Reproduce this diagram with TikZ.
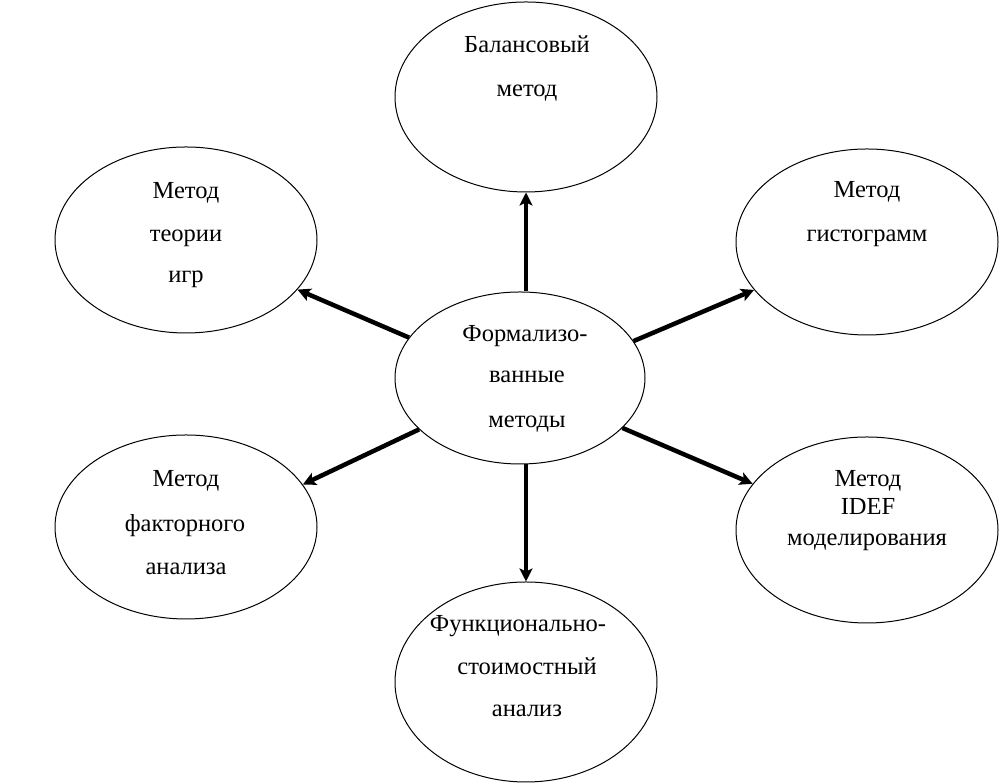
\documentclass[tikz,border=0pt]{standalone}
\usepackage{fontspec}
\setmainfont{Liberation Serif}
\usetikzlibrary{shapes.geometric,arrows.meta}
\tikzset{
  oval/.style={draw,ellipse,line width=1pt,inner sep=0pt,minimum width=262pt,minimum height=#1},
  lbl/.style={anchor=base,inner sep=0pt,font=\fontsize{24.5}{24.5}\selectfont},
  conn/.style={line width=4.5pt,-{Stealth[length=13pt,width=13pt,inset=3pt]}}
}
\begin{document}
\begin{tikzpicture}[x=1pt,y=1pt]
\useasboundingbox (0,0) rectangle (999,783);
% ellipses
\node[oval=190pt] (t)  at (526,686) {};
\node[oval=186pt] (lt) at (186,543) {};
\node[oval=186pt] (rt) at (867,541) {};
\node[oval=172pt,minimum width=250pt] (c) at (520,405) {};
\node[oval=184pt] (lb) at (186,256) {};
\node[oval=186pt] (rb) at (867,253) {};
\node[oval=200pt] (b)  at (526,101) {};
% texts
\node[lbl] (t1) at (527,730) {Балансовый};
\node[lbl] (t2) at (527,686) {метод};
\node[lbl] (lt1) at (186,584) {Метод};
\node[lbl] (lt2) at (186,541) {теории};
\node[lbl] (lt3) at (186,500) {игр};
\node[lbl] (rt1) at (867,585) {Метод};
\node[lbl] (rt2) at (867,541) {гистограмм};
\node[lbl] (c1) at (525,441) {Формализо-};
\node[lbl] (c2) at (527,400) {ванные};
\node[lbl] (c3) at (527,355) {методы};
\node[lbl] (lb1) at (186,296) {Метод};
\node[lbl] (lb2) at (185,251) {факторного};
\node[lbl] (lb3) at (186,208) {анализа};
\node[lbl] (rb1) at (868,296) {Метод};
\node[lbl] (rb2) at (868,268) {IDEF};
\node[lbl] (rb3) at (867,237) {моделирования};
\node[lbl] (b1) at (518,151) {Функционально-};
\node[lbl] (b2) at (527,108) {стоимостный};
\node[lbl] (b3) at (527,66) {анализ};
% connectors
\draw[conn] (c.north -| t.south) -- (t.south);
\draw[conn] (c.south -| b.north) -- (b.north);
\draw[conn] (c.160) -- (lt.-24);
\draw[conn] (c.18) -- (rt.-157);
\draw[conn] (c.207) -- (lb.20);
\draw[conn] (c.-26) -- (rb.158);
\end{tikzpicture}
\end{document}
